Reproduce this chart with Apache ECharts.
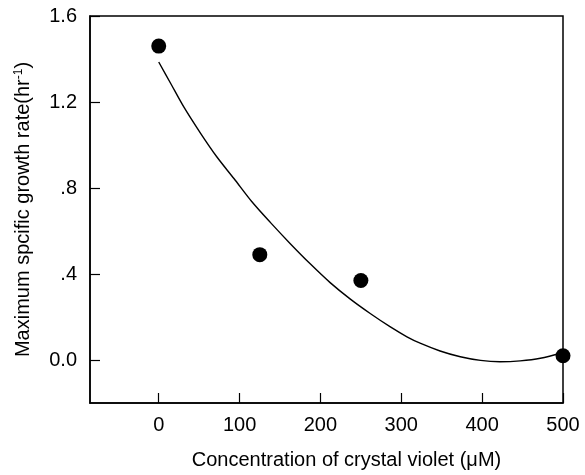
<!DOCTYPE html>
<html>
<head>
<meta charset="utf-8">
<script src="https://cdn.jsdelivr.net/npm/echarts@6/dist/echarts.min.js"></script>
<style>
  html, body { margin: 0; padding: 0; background: #fff; }
  #chart { width: 585px; height: 475px; }
</style>
</head>
<body>
<div id="chart"></div>
<script>
// measured points: concentration (uM) vs max specific growth rate (1/hr)
const concentrations = [0, 125, 250, 500]
const growthRates = [1.46, 0.49, 0.37, 0.02]

// fitted curve
const curveX = [0, 15, 31, 52, 72, 93, 115, 138, 163, 188, 212, 237, 262, 286, 307, 324, 348, 373, 398, 422, 447, 472, 500]
const curveY = [1.386, 1.285, 1.177, 1.053, 0.944, 0.844, 0.737, 0.64, 0.54, 0.445, 0.36, 0.283, 0.215, 0.155, 0.108, 0.077, 0.042, 0.015, -0.002, -0.008, -0.004, 0.008, 0.035]

const xTicks = [0, 100, 200, 300, 400, 500]
const yTicks = [0, 0.4, 0.8, 1.2, 1.6]
const yTickLabels = ['0.0', '.4', '.8', '1.2', '1.6']

const font = "'Liberation Sans', Arial, sans-serif"

const chart = echarts.init(document.getElementById('chart'))

const option = {
  animation: false,
  grid: {
    left: 90,
    right: 22,
    top: 16,
    bottom: 72,
    show: true,
    borderColor: '#000',
    borderWidth: 1.5
  },
  xAxis: {
    type: 'value',
    min: -85,
    max: 500,
    name: 'Concentration of crystal violet (μM)',
    nameLocation: 'middle',
    nameGap: 47,
    nameTextStyle: { color: '#000', fontSize: 20, fontFamily: font, padding: [0, 0, 0, 40] },
    axisLine: { onZero: false, lineStyle: { color: '#000', width: 1.5 } },
    axisTick: { inside: true, length: 10, customValues: xTicks, lineStyle: { color: '#000', width: 1.2 } },
    axisLabel: { customValues: xTicks, color: '#000', fontSize: 20, fontFamily: font, margin: 12 },
    splitLine: { show: false }
  },
  yAxis: {
    type: 'value',
    min: -0.2,
    max: 1.6,
    name: 'Maximum spcific growth rate(hr{sup|-1})',
    nameLocation: 'middle',
    nameGap: 57,
    nameTextStyle: {
      color: '#000', fontSize: 20, fontFamily: font,
      rich: {
        sup: { fontSize: 12, fontFamily: font, color: '#000', verticalAlign: 'top', padding: [0, 0, 8, 0] }
      }
    },
    axisLine: { onZero: false, lineStyle: { color: '#000', width: 1.5 } },
    axisTick: { inside: true, length: 10, customValues: yTicks, lineStyle: { color: '#000', width: 1.2 } },
    axisLabel: {
      customValues: yTicks,
      color: '#000', fontSize: 20, fontFamily: font, margin: 13,
      formatter: function (v) {
        const i = yTicks.findIndex(function (t) { return Math.abs(t - v) < 1e-6 })
        return i >= 0 ? yTickLabels[i] : ''
      }
    },
    splitLine: { show: false }
  },
  series: [
    {
      type: 'line',
      smooth: 0.3,
      showSymbol: false,
      lineStyle: { color: '#000', width: 1.4 },
      data: curveX.map(function (x, i) { return [x, curveY[i]] }),
      z: 2
    },
    {
      type: 'scatter',
      symbol: 'circle',
      symbolSize: 15,
      itemStyle: { color: '#000', opacity: 1 },
      data: concentrations.map(function (x, i) { return [x, growthRates[i]] }),
      z: 3
    }
  ]
}

chart.setOption(option)
</script>
</body>
</html>
